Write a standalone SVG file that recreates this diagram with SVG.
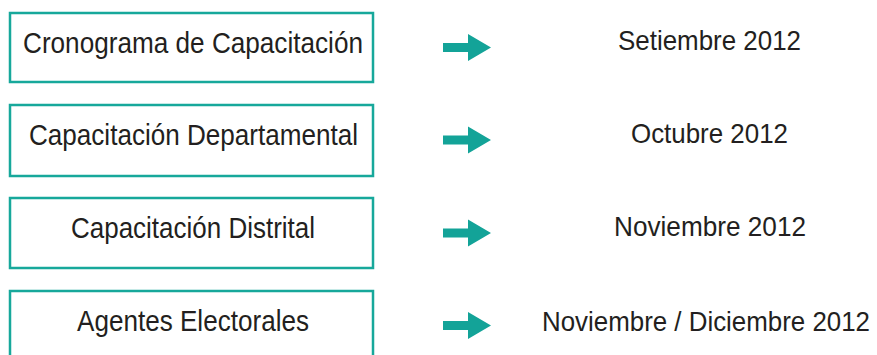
<svg xmlns="http://www.w3.org/2000/svg" width="877" height="355" viewBox="0 0 877 355">
<defs>
<style>
.box{fill:#fff;stroke:#17a89b;stroke-width:2.5}
.t{font-family:"Liberation Sans",Arial,sans-serif;font-size:29px;fill:#231f20}
.d{font-family:"Liberation Sans",Arial,sans-serif;font-size:28px;fill:#231f20;text-anchor:start}
.arrow{fill:#13a398}
</style>
<path id="arr" class="arrow" d="M0,-4.5 H25 V-13.5 L48,0 L25,13.5 V4.5 H0 Z"/>
</defs>
<rect width="877" height="355" fill="#fff"/>
<g id="node1"><rect class="box" x="10" y="13" width="363" height="69"/><text class="t" x="23" y="53" textLength="340" lengthAdjust="spacingAndGlyphs">Cronograma de Capacitación</text></g>
<g id="node2"><rect class="box" x="10" y="105" width="363" height="71"/><text class="t" x="29" y="145" textLength="329" lengthAdjust="spacingAndGlyphs">Capacitación Departamental</text></g>
<g id="node3"><rect class="box" x="10" y="198" width="363" height="70"/><text class="t" x="71" y="238" textLength="244" lengthAdjust="spacingAndGlyphs">Capacitación Distrital</text></g>
<g id="node4"><rect class="box" x="10" y="291" width="363" height="70"/><text class="t" x="77" y="331" textLength="232" lengthAdjust="spacingAndGlyphs">Agentes Electorales</text></g>
<g id="connectors">
<use href="#arr" x="443" y="47.5"/>
<use href="#arr" x="443" y="140"/>
<use href="#arr" x="443" y="233"/>
<use href="#arr" x="443" y="325.5"/>
</g>
<g id="date1"><text class="d" x="618" y="50" textLength="183" lengthAdjust="spacingAndGlyphs">Setiembre 2012</text></g>
<g id="date2"><text class="d" x="631" y="143" textLength="157" lengthAdjust="spacingAndGlyphs">Octubre 2012</text></g>
<g id="date3"><text class="d" x="614" y="236" textLength="192" lengthAdjust="spacingAndGlyphs">Noviembre 2012</text></g>
<g id="date4"><text class="d" x="542" y="331" textLength="328" lengthAdjust="spacingAndGlyphs">Noviembre / Diciembre 2012</text></g>
</svg>
